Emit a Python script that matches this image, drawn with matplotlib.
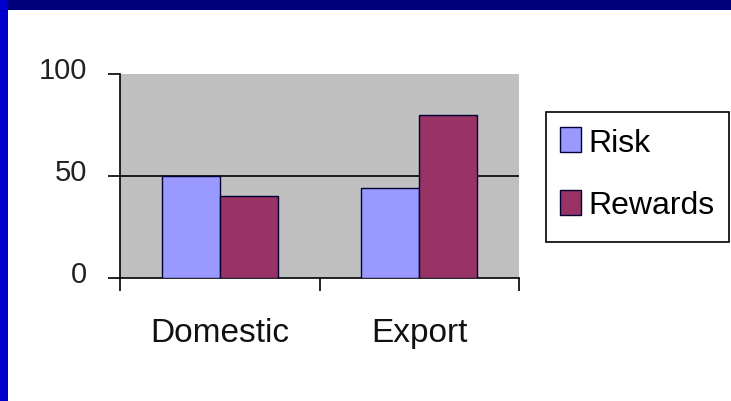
import numpy as np
import matplotlib
matplotlib.use("Agg")
import matplotlib.pyplot as plt
import matplotlib.transforms as mtransforms
from matplotlib.patches import Rectangle

categories = ["Domestic", "Export"]
risk = [50, 44]
rewards = [40, 80]
series_names = ["Risk", "Rewards"]

W, H = 731, 402
fig = plt.figure(figsize=(W / 100, H / 100), dpi=100)
fig.patch.set_facecolor("white")
plt.rcParams["font.family"] = ["Liberation Sans", "DejaVu Sans"]

# blue frame of the slide
fig.patches.append(Rectangle((0, 1 - 11 / H), 1, 11 / H, transform=fig.transFigure,
                             facecolor="#00007c", edgecolor="none", zorder=5))
fig.patches.append(Rectangle((0, 0), 8 / W, 1, transform=fig.transFigure,
                             facecolor="#0000cc", edgecolor="none", zorder=5))

ax = fig.add_axes([120 / W, 1 - 279 / H, (519 - 120) / W, (279 - 75) / H])
ax.set_facecolor("#c0c0c0")

x = np.arange(len(categories)) + 0.5
w = 0.29
ax.bar(x - w / 2, risk, w, color="#9999ff", edgecolor="#000033", linewidth=1, label=series_names[0], zorder=3)
ax.bar(x + w / 2, rewards, w, color="#993366", edgecolor="#000033", linewidth=1, label=series_names[1], zorder=3)

ax.set_xlim(0, 2)
ax.set_ylim(0, 100)
ax.set_yticks([0, 50, 100])
ax.axhline(50, color="black", linewidth=1.2, zorder=2)

ax.set_xticks([0, 1, 2])
ax.set_xticklabels([])
ax.set_xticks(x, minor=True)
ax.set_xticklabels(categories, minor=True, fontsize=24, color="#111111")
ax.tick_params(axis="x", which="minor", length=0, pad=28)
ax.tick_params(axis="x", which="major", length=9, width=1.2, direction="out")
ax.tick_params(axis="y", length=9, width=1.2, direction="out", pad=15, labelsize=21, labelcolor="#222222")

# y labels sit a little above their ticks in the original
shift = mtransforms.ScaledTranslation(0, 7 / 100, fig.dpi_scale_trans)
for lab in ax.get_yticklabels():
    lab.set_transform(lab.get_transform() + shift)

for s in ["top", "right"]:
    ax.spines[s].set_visible(False)
for s in ["left", "bottom"]:
    ax.spines[s].set_linewidth(1.2)

# legend box drawn separately so its size matches the original
fig.patches.append(Rectangle((546 / W, 1 - 243 / H), (729 - 546) / W, (243 - 113) / H,
                             transform=fig.transFigure, facecolor="white", edgecolor="black",
                             linewidth=1.2, zorder=-1))
leg = ax.legend(loc="upper left", bbox_to_anchor=(547 / W, 1 - 115 / H), bbox_transform=fig.transFigure,
                fontsize=23, handlelength=0.65, handleheight=0.85, handletextpad=0.25,
                labelspacing=1.0, borderpad=0.4, borderaxespad=0, frameon=False)

fig.savefig("out.png", dpi=100)
